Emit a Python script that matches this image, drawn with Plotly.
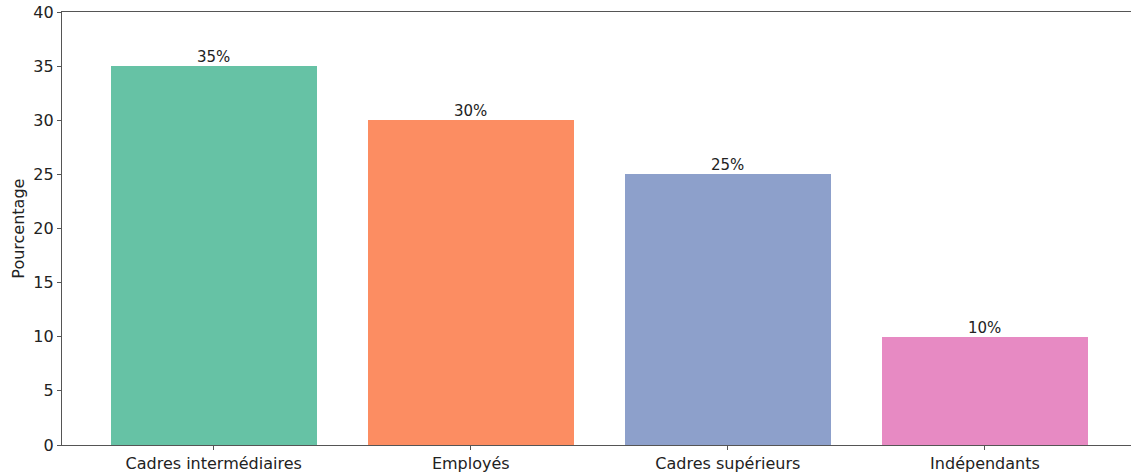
import plotly.graph_objects as go

categories = ["Cadres intermédiaires", "Employés", "Cadres supérieurs", "Indépendants"]
values = [35, 30, 25, 10]
labels = ["35%", "30%", "25%", "10%"]
colors = ["#66c2a5", "#fc8d62", "#8da0cb", "#e78ac3"]
yticks = [0, 5, 10, 15, 20, 25, 30, 35, 40]

xs = list(range(len(categories)))
fig = go.Figure()
fig.add_trace(go.Bar(
    x=xs, y=values, width=0.8,
    marker=dict(color=colors, line=dict(width=0)),
))

annotations = [dict(x=x, y=v, text=t, xref="x", yref="y", showarrow=False,
                    xanchor="center", yanchor="bottom", yshift=-2,
                    font=dict(size=15, color="#222"))
               for x, v, t in zip(xs, values, labels)]
annotations.append(dict(text="Pourcentage", xref="paper", yref="paper", x=-0.041, y=0.5,
                        xanchor="center", yanchor="middle", textangle=-90, showarrow=False,
                        font=dict(size=16, color="#222")))

fig.update_layout(
    width=1131, height=473,
    margin=dict(l=62, r=0, t=12, b=28),
    plot_bgcolor="white", paper_bgcolor="white",
    font=dict(family="DejaVu Sans", size=16, color="#222"),
    showlegend=False,
    bargap=0,
    xaxis=dict(range=[-0.59, 3.568], tickvals=xs, ticktext=categories,
               showline=True, linecolor="#555", linewidth=1.2, mirror=True,
               ticks="outside", ticklen=4, tickcolor="#555", showgrid=False, zeroline=False,
               tickfont=dict(size=16)),
    yaxis=dict(range=[0, 40], tickvals=yticks, showline=True, linecolor="#555", linewidth=1.2,
               ticks="outside", ticklen=4, tickcolor="#555", showgrid=False, zeroline=False,
               tickfont=dict(size=16)),
    annotations=annotations,
)
fig.write_html("out.html")
